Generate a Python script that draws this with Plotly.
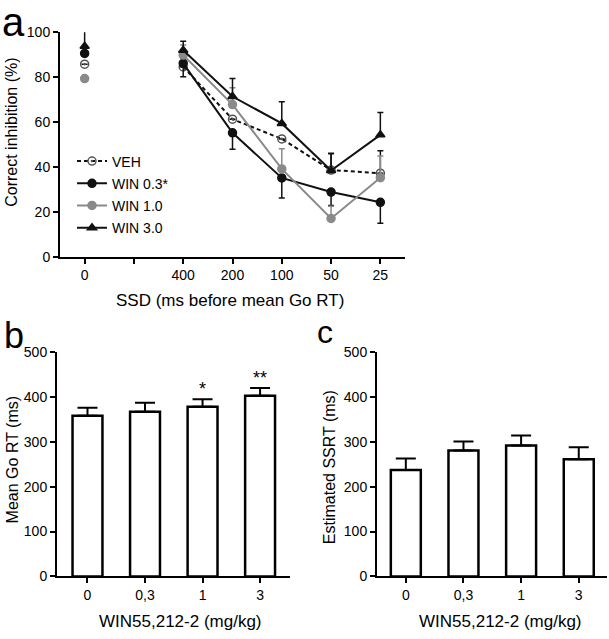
import plotly.graph_objects as go

W, H = 609, 639

# ---------------- Data ----------------
# Panel a: correct inhibition (%) by SSD
ssd_labels = ["0", "", "400", "200", "100", "50", "25"]
veh = [85.8, None, 84.6, 61.3, 52.5, 38.6, 37.2]
win03 = [90.6, None, 86.2, 55.2, 35.1, 28.8, 24.2]
win10 = [79.4, None, 89.9, 67.8, 39.1, 17.0, 35.2]
win30 = [93.8, None, 92.0, 71.4, 59.4, 38.4, 54.3]

veh_err_up = [0, None, 4, 0, 0, 7.5, 10]
veh_err_dn = [0, None, 0, 0, 0, 0, 0]
win03_err_up = [0, None, 0, 0, 0, 0, 0]
win03_err_dn = [0, None, 6, 7.3, 9, 6, 9.3]
win10_err_up = [0, None, 4.5, 7.5, 9, 5.5, 9.7]
win10_err_dn = [0, None, 0, 0, 0, 0, 0]
win30_err_up = [7, None, 4, 8, 9.7, 7.5, 10]
win30_err_dn = [0, None, 0, 0, 0, 0, 0]

# Panel b/c: bar charts
dose_labels = ["0", "0,3", "1", "3"]
go_rt = [358, 367, 378, 403]
go_rt_err = [18, 20, 17, 17]
go_rt_sig = ["", "", "*", "**"]
ssrt = [237, 281, 292, 261]
ssrt_err = [26, 20, 22, 27]

FONT = "Liberation Sans, Arial, sans-serif"


def px(x):
    return x / W


def py(y):
    return 1 - y / H


fig = go.Figure()
pos = list(range(len(ssd_labels)))


def line_trace(name, vals, up, dn, color, symbol, dash, mcolor):
    return go.Scatter(
        x=pos, y=vals, name=name, mode="lines+markers",
        connectgaps=False,
        line=dict(color=color, width=2, dash=dash),
        marker=dict(symbol=symbol, size=8, color=mcolor,
                    line=dict(color=mcolor, width=1.5)),
        error_y=dict(type="data", symmetric=False, array=up, arrayminus=dn,
                     color=color, thickness=1.5, width=3),
        xaxis="x", yaxis="y", legendgroup=name,
    )


fig.add_trace(line_trace("VEH", veh, veh_err_up, veh_err_dn, "#111111",
                         "circle-open-dot", "4px,3px", "#555555"))
fig.add_trace(line_trace("WIN 0.3*", win03, win03_err_up, win03_err_dn,
                         "#111111", "circle", "solid", "#111111"))
fig.add_trace(line_trace("WIN 1.0", win10, win10_err_up, win10_err_dn,
                         "#8a8a8a", "circle", "solid", "#8a8a8a"))
fig.add_trace(line_trace("WIN 3.0", win30, win30_err_up, win30_err_dn,
                         "#111111", "triangle-up", "solid", "#111111"))

dpos = list(range(len(dose_labels)))
for vals, errs, xa, ya in [(go_rt, go_rt_err, "x2", "y2"),
                           (ssrt, ssrt_err, "x3", "y3")]:
    fig.add_trace(go.Bar(
        x=dpos, y=vals, width=0.52, showlegend=False,
        marker=dict(color="white", line=dict(color="black", width=2.5)),
        error_y=dict(type="data", symmetric=False, array=errs,
                     arrayminus=[0] * len(errs), color="black",
                     thickness=2, width=10),
        xaxis=xa, yaxis=ya,
    ))

# significance stars
fig.add_trace(go.Scatter(
    x=dpos, y=[v + e for v, e in zip(go_rt, go_rt_err)], text=go_rt_sig,
    mode="text", textposition="top center", showlegend=False,
    textfont=dict(size=18, color="black", family=FONT),
    xaxis="x2", yaxis="y2", cliponaxis=False,
))

axis_common = dict(showline=True, linecolor="black", linewidth=2,
                   ticks="outside", ticklen=5, tickwidth=1.5,
                   tickcolor="black", showgrid=False, zeroline=False,
                   tickfont=dict(size=14, color="black", family=FONT))

fig.update_layout(
    width=W, height=H, margin=dict(l=0, r=0, t=0, b=0),
    paper_bgcolor="white", plot_bgcolor="white",
    font=dict(family=FONT, color="black"),
    xaxis=dict(domain=[px(60), px(405)], range=[-0.5, 6.5],
               tickvals=pos, ticktext=ssd_labels, anchor="y", **axis_common),
    yaxis=dict(domain=[py(255), py(25)], range=[0, 100], dtick=20,
               anchor="x", **axis_common),
    xaxis2=dict(domain=[px(57), px(290)], range=[-0.53, 3.52],
                tickvals=dpos, ticktext=dose_labels, anchor="y2", **axis_common),
    yaxis2=dict(domain=[py(583), py(353)], range=[0, 500], dtick=100,
                anchor="x2", **axis_common),
    xaxis3=dict(domain=[px(377), px(607)], range=[-0.5, 3.49],
                tickvals=dpos, ticktext=dose_labels, anchor="y3", **axis_common),
    yaxis3=dict(domain=[py(583), py(353)], range=[0, 500], dtick=100,
                anchor="x3", **axis_common),
    legend=dict(x=px(72), y=py(141), xanchor="left", yanchor="top",
                bgcolor="rgba(0,0,0,0)", font=dict(size=14, family=FONT),
                itemwidth=30, tracegroupgap=1),
    showlegend=True,
)

annots = [
    dict(text="a", x=px(13), y=py(14), font=dict(size=40)),
    dict(text="b", x=px(14), y=py(336), font=dict(size=36)),
    dict(text="c", x=px(325), y=py(332), font=dict(size=32)),
    dict(text="Correct inhibition (%)", x=px(12), y=py(128), textangle=-90,
         font=dict(size=16)),
    dict(text="Mean Go RT (ms)", x=px(12), y=py(464), textangle=-90,
         font=dict(size=16)),
    dict(text="Estimated SSRT (ms)", x=px(329), y=py(471), textangle=-90,
         font=dict(size=16)),
    dict(text="SSD (ms before mean Go RT)", x=px(230), y=py(300),
         font=dict(size=17)),
    dict(text="WIN55,212-2 (mg/kg)", x=px(180), y=py(629), font=dict(size=17)),
    dict(text="WIN55,212-2 (mg/kg)", x=px(500), y=py(629), font=dict(size=17)),
]
for a in annots:
    a.update(xref="paper", yref="paper", showarrow=False,
             xanchor="center", yanchor="middle")
    a["font"].update(family=FONT, color="black")
fig.update_layout(annotations=annots)

fig.write_html("out.html", config={"displayModeBar": False},
               post_script="document.body.style.margin='0';")
